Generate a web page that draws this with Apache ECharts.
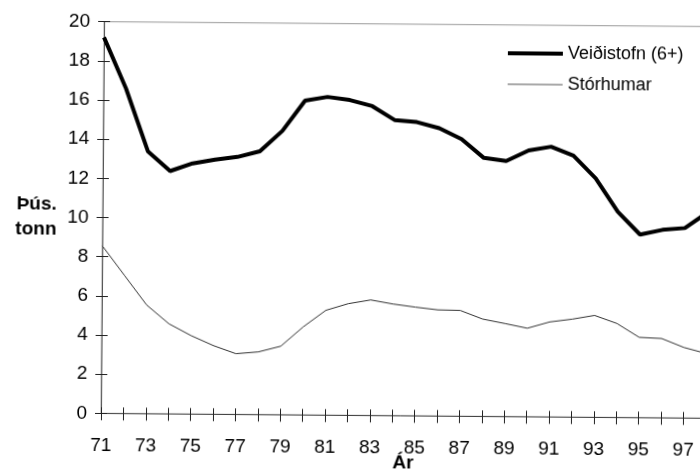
<!DOCTYPE html>
<html>
<head>
<meta charset="utf-8">
<script src="https://cdn.jsdelivr.net/npm/echarts@6/dist/echarts.min.js"></script>
<style>
  html, body { margin: 0; padding: 0; background: #fff; overflow: hidden; }
  #chart { width: 700px; height: 471px; transform: rotate(0.46deg); transform-origin: 101px 413px; }
</style>
</head>
<body>
<div id="chart"></div>
<script>
// Humarstofn 1971-1998, þúsund tonn
const years = ['71','72','73','74','75','76','77','78','79','80','81','82','83','84',
               '85','86','87','88','89','90','91','92','93','94','95','96','97','98'];
const veidistofn = [19.2, 16.6, 13.4, 12.4, 12.8, 13.0, 13.15, 13.45, 14.5, 16.05, 16.25, 16.1, 15.8, 15.1,
                    15.0, 14.7, 14.15, 13.2, 13.05, 13.6, 13.8, 13.35, 12.2, 10.5, 9.35, 9.6, 9.7, 10.5];
const storhumar  = [8.55, 7.05, 5.55, 4.6, 4.0, 3.5, 3.1, 3.2, 3.5, 4.5, 5.35, 5.7, 5.9, 5.7,
                    5.55, 5.42, 5.4, 4.97, 4.75, 4.52, 4.85, 5.0, 5.2, 4.8, 4.1, 4.05, 3.6, 3.3];
const seriesNames = ['Veiðistofn (6+)', 'Stórhumar'];
const yTitle = 'Þús.\ntonn';
const xTitle = 'Ár';

const FONT = '"Liberation Sans", Arial, sans-serif';
// plot box runs past the right edge of the page
const gridBox = { left: 101, top: 21.7, width: 604.8, height: 391.6, outerBoundsMode: 'none', containLabel: false };

const legendText = { fontSize: 18, color: '#000', fontFamily: FONT, lineHeight: 20 };

const chart = echarts.init(document.getElementById('chart'), null, { renderer: 'canvas' });
chart.setOption({
  animation: false,
  backgroundColor: '#fff',
  textStyle: { fontFamily: FONT, color: '#000' },
  grid: [
    Object.assign({ show: true, borderColor: '#999', borderWidth: 1, backgroundColor: 'transparent' }, gridBox),
    Object.assign({}, gridBox)
  ],
  legend: [
    {
      left: 500, top: 35, icon: 'rect', itemWidth: 55, itemHeight: 4,
      textStyle: legendText, data: [seriesNames[0]]
    },
    {
      left: 500, top: 66, icon: 'rect', itemWidth: 55, itemHeight: 1,
      textStyle: legendText, data: [seriesNames[1]]
    }
  ],
  xAxis: [
    {
      type: 'category', gridIndex: 0, data: years, boundaryGap: false,
      axisLine: { show: true, lineStyle: { color: '#444', width: 1 } },
      axisTick: { show: true, interval: 0, length: 7, lineStyle: { color: '#222' } },
      axisLabel: { interval: 1, fontSize: 19, margin: 23, color: '#000', fontFamily: FONT },
      splitLine: { show: false },
      name: xTitle, nameLocation: 'middle', nameGap: 38, nameMoveOverlap: false,
      nameTextStyle: { fontSize: 19, fontWeight: 'bold', color: '#000', fontFamily: FONT }
    },
    {
      type: 'category', gridIndex: 1, data: years, boundaryGap: false,
      axisLine: { show: false },
      axisTick: { show: true, inside: true, interval: 0, length: 6, lineStyle: { color: '#222' } },
      axisLabel: { show: false },
      splitLine: { show: false }
    }
  ],
  yAxis: [
    {
      type: 'value', gridIndex: 0, min: 0, max: 20, interval: 2,
      axisLine: { show: true, lineStyle: { color: '#555', width: 1 } },
      axisTick: { show: true, length: 6, lineStyle: { color: '#222' } },
      axisLabel: { fontSize: 19, margin: 14, color: '#000', fontFamily: FONT },
      splitLine: { show: false },
      name: yTitle, nameLocation: 'middle', nameRotate: 0, nameGap: 46, nameMoveOverlap: false,
      nameTextStyle: { fontSize: 19, fontWeight: 'bold', color: '#000', lineHeight: 25, fontFamily: FONT }
    },
    {
      type: 'value', gridIndex: 1, min: 0, max: 20, interval: 2,
      axisLine: { show: false },
      axisTick: { show: true, inside: true, length: 6, lineStyle: { color: '#222' } },
      axisLabel: { show: false },
      splitLine: { show: false }
    }
  ],
  series: [
    {
      name: seriesNames[0], type: 'line', xAxisIndex: 0, yAxisIndex: 0,
      data: veidistofn, symbol: 'none',
      lineStyle: { color: '#000', width: 4 }, itemStyle: { color: '#000' }
    },
    {
      name: seriesNames[1], type: 'line', xAxisIndex: 0, yAxisIndex: 0,
      data: storhumar, symbol: 'none',
      lineStyle: { color: '#333', width: 1 }, itemStyle: { color: '#555' }
    }
  ]
});
</script>
</body>
</html>
